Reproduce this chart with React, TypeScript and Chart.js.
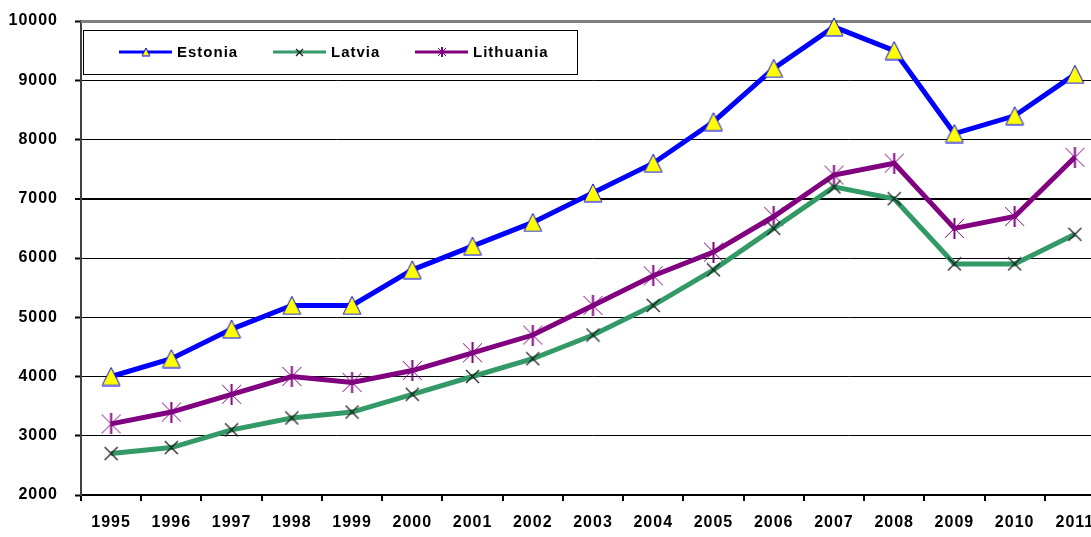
import React, { useEffect, useRef } from 'react';
import { Chart, registerables } from 'chart.js';

Chart.register(...registerables);

// GDP per capita style series, 1995-2011
const years = ['1995', '1996', '1997', '1998', '1999', '2000', '2001', '2002', '2003', '2004', '2005', '2006', '2007', '2008', '2009', '2010', '2011'];
const estonia = [4000, 4300, 4800, 5200, 5200, 5800, 6200, 6600, 7100, 7600, 8300, 9200, 9900, 9500, 8100, 8400, 9100];
const latvia = [2700, 2800, 3100, 3300, 3400, 3700, 4000, 4300, 4700, 5200, 5800, 6500, 7200, 7000, 5900, 5900, 6400];
const lithuania = [3200, 3400, 3700, 4000, 3900, 4100, 4400, 4700, 5200, 5700, 6100, 6700, 7400, 7600, 6500, 6700, 7700];
const seriesNames = ['Estonia', 'Latvia', 'Lithuania'];
const yMin = 2000;
const yMax = 10000;
const yStep = 1000;

const CANVAS_W = 1108;
const CANVAS_H = 537;
const PLOT_RIGHT = 1105;
const FONT = '"Liberation Sans", Arial, sans-serif';

function makeMarker(w: number, h: number, draw: (ctx: CanvasRenderingContext2D) => void) {
  const c = document.createElement('canvas');
  c.width = w;
  c.height = h;
  const ctx = c.getContext('2d') as CanvasRenderingContext2D;
  draw(ctx);
  return c;
}

function triangleMarker(s: number) {
  return makeMarker(s + 2, s + 2, (ctx) => {
    ctx.beginPath();
    ctx.moveTo(1 + s / 2, 1);
    ctx.lineTo(1 + s, 1 + s);
    ctx.lineTo(1, 1 + s);
    ctx.closePath();
    ctx.fillStyle = '#ffff00';
    ctx.fill();
    ctx.strokeStyle = '#0000ff';
    ctx.lineWidth = 1;
    ctx.stroke();
    ctx.beginPath();
    ctx.moveTo(1, s + 0.5);
    ctx.lineTo(1 + s, s + 0.5);
    ctx.strokeStyle = '#7878a8';
    ctx.stroke();
  });
}

function crossMarker(s: number) {
  return makeMarker(s + 2, s + 2, (ctx) => {
    ctx.strokeStyle = '#1a1a1a';
    ctx.lineWidth = 1.2;
    ctx.beginPath();
    ctx.moveTo(1, 1);
    ctx.lineTo(1 + s, 1 + s);
    ctx.moveTo(1 + s, 1);
    ctx.lineTo(1, 1 + s);
    ctx.stroke();
  });
}

function starMarker(s: number) {
  return makeMarker(s + 2, s + 2, (ctx) => {
    ctx.strokeStyle = '#800080';
    ctx.lineWidth = 1;
    ctx.beginPath();
    ctx.moveTo(1, 1);
    ctx.lineTo(1 + s, 1 + s);
    ctx.moveTo(1 + s, 1);
    ctx.lineTo(1, 1 + s);
    ctx.stroke();
    ctx.lineWidth = 2;
    ctx.beginPath();
    ctx.moveTo(1 + s / 2, 0);
    ctx.lineTo(1 + s / 2, s + 2);
    ctx.stroke();
  });
}

export default function App() {
  const canvasRef = useRef<HTMLCanvasElement | null>(null);

  useEffect(() => {
    const canvas = canvasRef.current;
    if (!canvas) return;

    const bigMarkers = [triangleMarker(18), crossMarker(13), starMarker(19)];
    const smallMarkers = [triangleMarker(8), crossMarker(7), starMarker(8)];
    const colors = ['#0000ff', '#339966', '#800080'];
    const values = [estonia, latvia, lithuania];

    const framePlugin = {
      id: 'frameAndLegend',
      beforeDraw(chart: any) {
        chart.ctx.letterSpacing = '1px';
      },
      beforeDatasetsDraw(chart: any) {
        const { ctx, chartArea } = chart;
        ctx.save();
        ctx.fillStyle = '#808080';
        ctx.fillRect(chartArea.left, chartArea.top - 1, chartArea.right - chartArea.left, 3);
        ctx.restore();
      },
      afterDatasetsDraw(chart: any) {
        const { ctx } = chart;
        ctx.save();
        const bx = 83.5;
        const by = 30.5;
        const bw = 494;
        const bh = 44;
        ctx.fillStyle = '#ffffff';
        ctx.fillRect(bx, by, bw, bh);
        ctx.strokeStyle = '#000000';
        ctx.lineWidth = 1;
        ctx.strokeRect(bx, by, bw, bh);
        const cy = 52;
        const starts = [119, 273, 415];
        chart.data.datasets.forEach((ds: any, i: number) => {
          const x0 = starts[i];
          ctx.strokeStyle = ds.borderColor;
          ctx.lineWidth = 3;
          ctx.beginPath();
          ctx.moveTo(x0, cy);
          ctx.lineTo(x0 + 53, cy);
          ctx.stroke();
          const m = smallMarkers[i];
          ctx.drawImage(m, Math.round(x0 + 26.5 - m.width / 2), Math.round(cy - m.height / 2));
          ctx.fillStyle = '#000000';
          ctx.font = `bold 15px ${FONT}`;
          ctx.letterSpacing = '1px';
          ctx.textBaseline = 'middle';
          ctx.textAlign = 'left';
          ctx.fillText(ds.label, x0 + 58, cy + 1);
        });
        ctx.restore();
      },
    };

    const chart = new Chart(canvas, {
      type: 'line',
      data: {
        labels: years,
        datasets: seriesNames.map((name, i) => ({
          label: name,
          data: values[i],
          borderColor: colors[i],
          backgroundColor: colors[i],
          borderWidth: 5,
          pointStyle: bigMarkers[i] as any,
          pointRadius: 6,
          pointHoverRadius: 6,
          tension: 0,
          fill: false,
          clip: false as any,
        })),
      },
      options: {
        responsive: false,
        animation: false,
        events: [],
        layout: {
          autoPadding: false,
          padding: { top: 21, right: CANVAS_W - PLOT_RIGHT, left: 0, bottom: 0 },
        },
        plugins: {
          legend: { display: false },
          tooltip: { enabled: false },
        },
        scales: {
          x: {
            type: 'category',
            offset: true,
            grid: {
              offset: true,
              drawOnChartArea: false,
              drawTicks: true,
              tickLength: 6,
              color: '#000000',
              lineWidth: 2,
            },
            border: { color: '#000000', width: 2 },
            ticks: {
              font: { family: FONT, size: 16, weight: 'bold' },
              color: '#000000',
              padding: 12,
              maxRotation: 0,
              autoSkip: false,
            },
            afterFit: (s: any) => {
              s.height = 42;
              s.paddingLeft = 0;
              s.paddingRight = 0;
            },
          },
          y: {
            min: yMin,
            max: yMax,
            ticks: {
              stepSize: yStep,
              font: { family: FONT, size: 16, weight: 'bold' },
              color: '#000000',
              padding: 17,
              callback: (v: any) => String(v),
            },
            grid: {
              color: '#000000',
              lineWidth: (c: any) => (c.tick && c.tick.value === 7000 ? 2 : 1),
              tickLength: 6,
              tickColor: '#000000',
              tickWidth: 2,
            },
            border: { color: '#404040', width: 2 },
            afterFit: (s: any) => {
              s.width = 81;
              s.paddingTop = 0;
              s.paddingBottom = 0;
            },
          },
        },
      },
      plugins: [framePlugin],
    });

    return () => {
      chart.destroy();
    };
  }, []);

  return (
    <div
      style={{
        position: 'fixed',
        left: 0,
        top: 0,
        width: 1091,
        height: 537,
        overflow: 'hidden',
        background: '#ffffff',
      }}
    >
      <canvas ref={canvasRef} width={CANVAS_W} height={CANVAS_H} style={{ display: 'block' }} />
    </div>
  );
}
